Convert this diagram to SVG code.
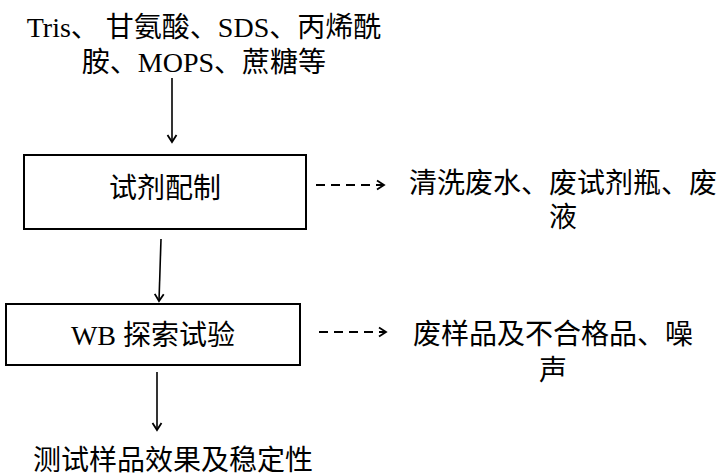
<svg xmlns="http://www.w3.org/2000/svg" width="717" height="475" viewBox="0 0 717 475">
<style>
  text { font-family: "Liberation Serif", "Noto Sans CJK SC", serif; font-size: 28px; fill: #000; }
  .c { text-anchor: middle; }
  .box { fill: #fff; stroke: #000; stroke-width: 2; }
  .solid { stroke: #000; stroke-width: 1.6; fill: none; }
  .dash { stroke: #000; stroke-width: 2; fill: none; stroke-dasharray: 9 6; }
</style>
<defs>
  <marker id="ah" markerUnits="userSpaceOnUse" markerWidth="12" markerHeight="12" refX="9" refY="6" orient="auto">
    <path d="M2,1.5 L9,6 L2,10.5" fill="none" stroke="#000" stroke-width="1.8"/>
  </marker>
</defs>
<rect width="717" height="475" fill="#fff"/>
<g id="input">
  <text class="c" x="204" y="37">Tris、 甘氨酸、SDS、丙烯酰</text>
  <text class="c" x="204" y="72">胺、MOPS、蔗糖等</text>
</g>
<g id="node1">
  <rect class="box" x="24" y="155" width="282" height="74"/>
  <text class="c" x="165" y="198">试剂配制</text>
</g>
<g id="out1">
  <text class="c" x="563" y="193">清洗废水、废试剂瓶、废</text>
  <text class="c" x="563" y="227">液</text>
</g>
<g id="node2">
  <rect class="box" x="6" y="304" width="294" height="61"/>
  <text class="c" x="153" y="345">WB 探索试验</text>
</g>
<g id="out2">
  <text class="c" x="553" y="344">废样品及不合格品、噪</text>
  <text class="c" x="553" y="380">声</text>
</g>
<g id="result">
  <text class="c" x="173" y="470">测试样品效果及稳定性</text>
</g>
<g id="connectors">
  <line class="solid" x1="172" y1="78" x2="172" y2="142" marker-end="url(#ah)"/>
  <line class="solid" x1="161" y1="239" x2="159" y2="301" marker-end="url(#ah)"/>
  <line class="solid" x1="157" y1="372" x2="157" y2="430" marker-end="url(#ah)"/>
  <line class="dash" x1="316" y1="185" x2="384" y2="185"/>
  <path d="M377,180.5 L384,185 L377,189.5" fill="none" stroke="#000" stroke-width="1.8"/>
  <line class="dash" x1="319" y1="332" x2="386" y2="332"/>
  <path d="M379,327.5 L386,332 L379,336.5" fill="none" stroke="#000" stroke-width="1.8"/>
</g>
</svg>
